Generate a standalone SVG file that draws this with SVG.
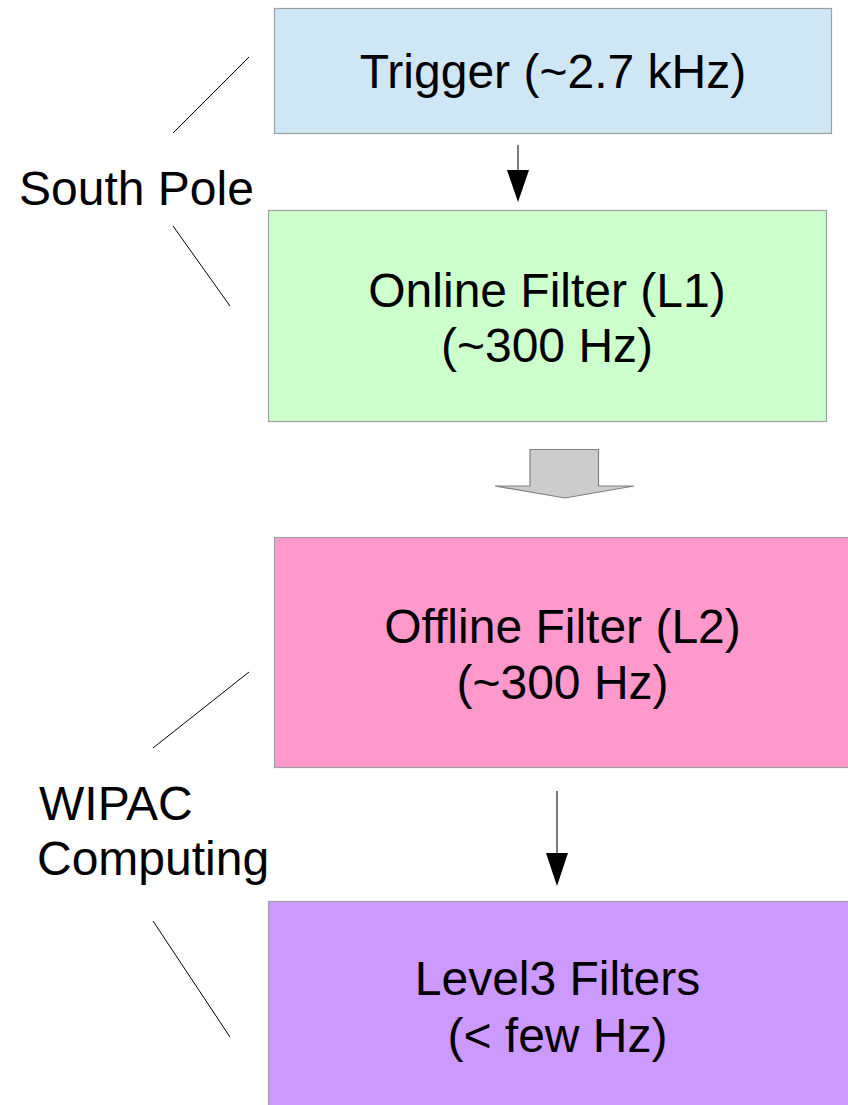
<svg xmlns="http://www.w3.org/2000/svg" width="848" height="1105" viewBox="0 0 848 1105">
<style>
  .box { stroke: #a0a0a0; stroke-width: 1.2; }
  .t { font-family: "Liberation Sans", Arial, sans-serif; font-size: 48px; fill: #000; }
  .c { text-anchor: middle; }
  .lead { stroke: #000; stroke-width: 1; fill: none; }
  .conn { stroke: #333; stroke-width: 1.3; fill: none; }
  .head { fill: #000; stroke: none; }
</style>
<rect x="0" y="0" width="848" height="1105" fill="#fff"/>
<g id="trigger">
  <rect class="box" x="274.5" y="8.5" width="557" height="125" fill="#cfe7f5"/>
  <text class="t c" x="553" y="88">Trigger (~2.7 kHz)</text>
</g>
<g id="online-filter">
  <rect class="box" x="268.5" y="210.5" width="558" height="211" fill="#ccffcc"/>
  <text class="t c" x="547" y="307">Online Filter (L1)</text>
  <text class="t c" x="547" y="362">(~300 Hz)</text>
</g>
<g id="offline-filter">
  <rect class="box" x="274.5" y="537.5" width="578" height="230" fill="#ff99cc"/>
  <text class="t c" x="562.5" y="643">Offline Filter (L2)</text>
  <text class="t c" x="562.5" y="699">(~300 Hz)</text>
</g>
<g id="level3-filters">
  <rect class="box" x="268.5" y="901.5" width="584" height="210" fill="#cc99ff"/>
  <text class="t c" x="557.5" y="995">Level3 Filters</text>
  <text class="t c" x="557.5" y="1052">(&lt; few Hz)</text>
</g>
<g id="south-pole">
  <text class="t" x="19" y="205">South Pole</text>
  <line class="lead" x1="249" y1="57" x2="173" y2="133"/>
  <line class="lead" x1="173" y1="226" x2="230" y2="306"/>
</g>
<g id="wipac-computing">
  <text class="t" x="39" y="820">WIPAC</text>
  <text class="t" x="37" y="875">Computing</text>
  <line class="lead" x1="249" y1="672" x2="153" y2="748"/>
  <line class="lead" x1="153" y1="921" x2="230" y2="1037"/>
</g>
<g id="connectors">
  <line class="conn" x1="518" y1="145" x2="518" y2="172"/>
  <polygon class="head" points="507,170 529,170 518,202"/>
  <polygon points="530,449.5 598.5,449.5 598.5,486 634,486 565,498 495,486 530,486" fill="#cccccc" stroke="#808080" stroke-width="1.2"/>
  <line class="conn" x1="557" y1="791" x2="557" y2="855"/>
  <polygon class="head" points="546,853 568,853 557,886"/>
</g>
</svg>
